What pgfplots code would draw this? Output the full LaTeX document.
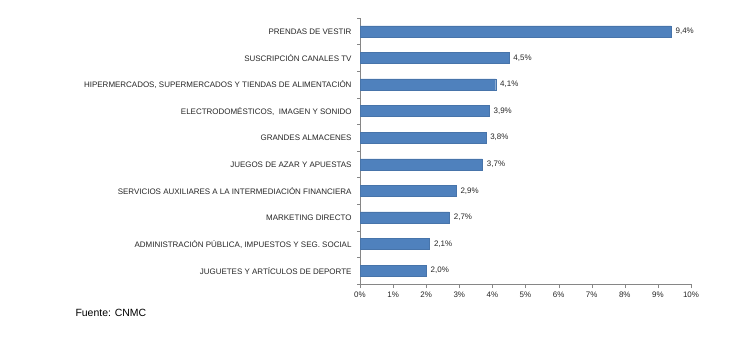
\documentclass[border=0pt]{standalone}
\usepackage{pgfplots}
\pgfplotsset{compat=1.18}
\usepackage{fontspec}
\setmainfont{Liberation Sans}
\definecolor{barblue}{HTML}{4F81BD}
\definecolor{axgray}{HTML}{868686}
\begin{document}
\begin{tikzpicture}
\path[use as bounding box] (0,0) rectangle (733bp,352bp);
\begin{axis}[
  at={(360bp,68bp)}, anchor=south west,
  scale only axis, width=331bp, height=266bp,
  xbar, bar width=11bp,
  xmin=0, xmax=10, ymin=-0.5, ymax=9.5,
  axis x line*=bottom, axis y line*=left,
  axis line style={axgray},
  xtick={0,1,...,10},
  xticklabel={\pgfmathprintnumber{\tick}\%},
  ytick={0,1,...,9},
  yticklabels={JUGUETES Y ARTÍCULOS DE DEPORTE,
    {ADMINISTRACIÓN PÚBLICA, IMPUESTOS Y SEG. SOCIAL},
    MARKETING DIRECTO,
    SERVICIOS AUXILIARES A LA INTERMEDIACIÓN FINANCIERA,
    JUEGOS DE AZAR Y APUESTAS,
    GRANDES ALMACENES,
    {ELECTRODOMÉSTICOS,\ \ IMAGEN Y SONIDO},
    {HIPERMERCADOS, SUPERMERCADOS Y TIENDAS DE ALIMENTACIÓN},
    SUSCRIPCIÓN CANALES TV,
    PRENDAS DE VESTIR},
  minor ytick={-0.5,0.5,...,9.5},
  major y tick style={draw=none},
  minor y tick style={axgray},
  x tick style={axgray},
  tick align=outside,
  major tick length=4bp, minor tick length=3bp,
  tick label style={font=\fontsize{8}{9}\selectfont, text=black!85},
  yticklabel style={xshift=-1bp},
  /pgf/number format/assume math mode=true,
  nodes near coords={\pgfmathprintnumber[fixed,fixed zerofill,precision=1,use comma]{\pgfplotspointmeta}\%},
  nodes near coords style={font=\fontsize{8}{9}\selectfont, text=black!85, xshift=1bp},
]
\addplot[fill=barblue, draw=barblue!90!black] coordinates {
(2.0,0) (2.1,1) (2.7,2) (2.9,3) (3.7,4) (3.8,5) (3.9,6) (4.1,7) (4.5,8) (9.4,9)};
\end{axis}
\node[anchor=west, font=\fontsize{10.5}{12}\selectfont] at (72bp,39bp) {Fuente: CNMC};
\end{tikzpicture}
\end{document}
